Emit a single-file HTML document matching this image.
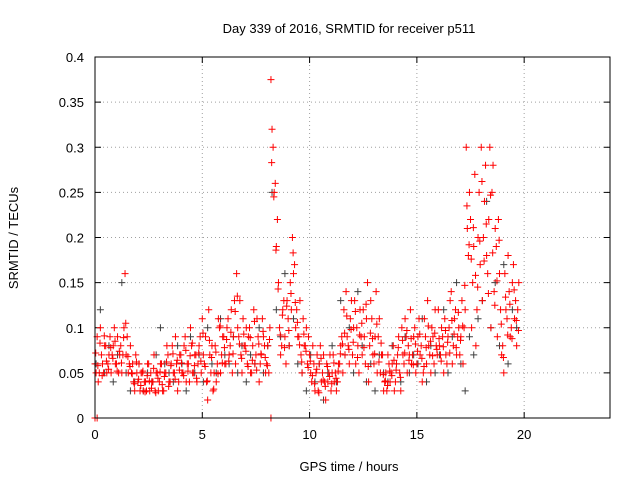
<!DOCTYPE html>
<html><head><meta charset="utf-8">
<style>
html,body{margin:0;padding:0;background:#fff;}
svg{display:block;font-family:"Liberation Sans",Arial,sans-serif;}
</style></head>
<body>
<svg id="chart" width="640" height="480" viewBox="0 0 640 480">
<rect x="0" y="0" width="640" height="480" fill="#fff"/>
<text x="349" y="33" font-size="13" text-anchor="middle" fill="#000">Day 339 of 2016, SRMTID for receiver p511</text>
<text x="349" y="471" font-size="13" text-anchor="middle" fill="#000">GPS time / hours</text>
<text x="18" y="238" font-size="13" text-anchor="middle" fill="#000" transform="rotate(-90 18 238)">SRMTID / TECUs</text>
<g id="grid"></g>
<g id="ticks"></g>
<g id="pts"></g>
<rect x="95" y="57" width="515" height="361" fill="none" stroke="#000" stroke-width="1"/>
</svg>
<script>
const xTicks=[0,5,10,15,20];
const yTicks=[0,0.05,0.1,0.15,0.2,0.25,0.3,0.35,0.4];
const yTickLabels=["0","0.05","0.1","0.15","0.2","0.25","0.3","0.35","0.4"];
const tStart=0, tStep=0.1, blackStep=0.2;
const redA=[.06,.09,.05,.07,.05,.08,.06,.09,.07,.10,.06,.05,.08,.07,.16,.09,.06,.05,.04,.07,.04,.03,.05,.04,.03,.06,.05,.04,.03,.05,.04,.06,.03,.05,.07,.04,.08,.05,.06,.04,.07,.05,.09,.06,.04,.08,.05,.07,.06,.09,.11,.06,.04,.12,.05,.03,.08,.06,.10,.07,.09,.06,.11,.08,.05,.13,.16,.09,.07,.11,.08,.06,.10,.05,.12,.07,.09,.06,.11,.08,.06,.05,.375,.30,.26,.22,.10,.08,.13,.06,.11,.15,.20,.17,.12,.09,.07,.11,.08,.06,.07,.04,.06,.05,.03,.08,.05,.04,.06,.05,.03,.07,.05,.04,.06,.09,.12,.14,.08,.11,.07,.13,.10,.05,.09,.12,.06,.15,.08,.11,.06,.14,.09,.05,.07,.04,.03,.06,.05,.08,.04,.07,.05,.10,.06,.09,.08,.12,.07,.10,.06,.11,.08,.05,.09,.13,.07,.10,.06,.08,.12,.07,.09,.11,.06,.10,.14,.08,.12,.09,.07,.13,.10,.30,.18,.22,.15,.27,.12,.25,.30,.20,.28,.16,.30,.25,.14,.19,.22,.12,.08,.16,.11,.14,.10,.17,.13,.12];
const redB=[.05,.04,.10,.06,.08,.05,.07,.05,.08,.06,.09,.07,.05,.10,.07,.05,.08,.06,.03,.05,.06,.05,.03,.04,.06,.03,.04,.07,.05,.03,.06,.03,.05,.08,.04,.06,.05,.09,.03,.07,.05,.08,.04,.06,.10,.05,.07,.04,.08,.05,.07,.09,.02,.07,.08,.05,.04,.11,.05,.09,.06,.10,.07,.12,.09,.06,.10,.13,.05,.08,.10,.09,.05,.08,.06,.11,.04,.07,.09,.05,.08,.10,.32,.25,.19,.15,.07,.12,.09,.13,.08,.12,.16,.10,.09,.13,.05,.08,.10,.09,.05,.08,.03,.07,.06,.04,.07,.02,.04,.07,.05,.04,.03,.06,.08,.05,.07,.09,.06,.13,.10,.06,.08,.12,.07,.09,.11,.04,.13,.07,.09,.05,.11,.07,.03,.05,.07,.04,.06,.03,.06,.09,.03,.07,.11,.05,.07,.06,.09,.05,.09,.07,.04,.11,.06,.08,.05,.09,.12,.07,.08,.10,.05,.07,.09,.13,.06,.11,.07,.10,.09,.06,.12,.21,.25,.10,.19,.08,.20,.17,.13,.24,.18,.22,.10,.28,.21,.09,.16,.07,.05,.12,.18,.09,.15,.11,.08,.15];
const redC=[.072,.058,.083,.047,.091,.063,.054,.078,.066,.085,.052,.074,.061,.089,.105,.068,.057,.049,.038,.062,.043,.036,.052,.029,.047,.041,.033,.055,.028,.044,.051,.037,.046,.062,.035,.058,.071,.043,.064,.053,.061,.047,.075,.052,.069,.083,.058,.044,.072,.063,.094,.057,.041,.086,.067,.032,.073,.049,.102,.061,.078,.087,.063,.095,.071,.118,.135,.082,.066,.093,.074,.057,.089,.064,.107,.053,.082,.071,.096,.067,.058,.087,.283,.245,.186,.143,.092,.114,.078,.124,.097,.138,.183,.128,.106,.081,.062,.093,.074,.056,.063,.047,.038,.054,.028,.066,.042,.035,.057,.046,.038,.061,.044,.052,.071,.082,.094,.113,.076,.098,.084,.118,.067,.092,.105,.078,.126,.057,.094,.088,.071,.104,.062,.083,.048,.041,.036,.052,.047,.064,.053,.078,.045,.086,.072,.097,.064,.088,.059,.082,.074,.093,.066,.057,.078,.102,.085,.069,.094,.076,.088,.063,.079,.097,.084,.072,.108,.093,.078,.117,.086,.102,.147,.235,.192,.176,.211,.158,.145,.196,.262,.174,.215,.138,.247,.183,.125,.152,.197,.104,.067,.134,.092,.126,.088,.142,.108,.097];
const black=[.06,.12,.05,.08,.04,.07,.15,.05,.03,.04,.06,.03,.05,.04,.07,.10,.06,.05,.04,.08,.06,.03,.09,.05,.07,.04,.10,.06,.05,.11,.07,.06,.09,.05,.08,.04,.07,.06,.10,.05,.08,.25,.12,.09,.16,.08,.11,.06,.05,.03,.07,.04,.06,.02,.05,.08,.04,.13,.07,.10,.05,.14,.08,.04,.06,.03,.07,.05,.04,.08,.06,.04,.09,.05,.07,.06,.11,.04,.08,.05,.07,.12,.05,.09,.15,.06,.03,.09,.07,.11,.13,.24,.10,.15,.08,.17,.06,.12,.10];
const zeroTimes=[0,0.1,8.2];
const zeroVals=[0,0,0];

const NS="http://www.w3.org/2000/svg";
const X0=95,X1=610,Y0=418,Y1=57;
function xs(t){return X0+(t/24)*(X1-X0);}
function ys(v){return Y0-(v/0.4)*(Y0-Y1);}
const grid=document.getElementById('grid'),ticks=document.getElementById('ticks'),pts=document.getElementById('pts');
function mk(tag,attrs,parent){const e=document.createElementNS(NS,tag);for(const k in attrs)e.setAttribute(k,attrs[k]);parent.appendChild(e);return e;}
xTicks.forEach(t=>{
  const x=xs(t);
  if(t>0){const g=mk('line',{x1:x,y1:Y0,x2:x,y2:Y1,stroke:'#a0a0a0','stroke-dasharray':'1,3'},grid);
  
  }
  mk('line',{x1:x,y1:Y0,x2:x,y2:Y0-6,stroke:'#000'},ticks);
  mk('line',{x1:x,y1:Y1,x2:x,y2:Y1+6,stroke:'#000'},ticks);
  const l=mk('text',{x:x,y:Y0+21,'font-size':13,'text-anchor':'middle'},ticks);
  l.textContent=String(t);
  
  
});
yTicks.forEach((v,i)=>{
  const y=ys(v);
  if(v>0&&v<0.4){const g=mk('line',{x1:X0,y1:y,x2:X1,y2:y,stroke:'#a0a0a0','stroke-dasharray':'1,3'},grid);
  
  }
  mk('line',{x1:X0,y1:y,x2:X0+6,y2:y,stroke:'#000'},ticks);
  mk('line',{x1:X1,y1:y,x2:X1-6,y2:y,stroke:'#000'},ticks);
  const l=mk('text',{x:X0-11,y:y+5,'font-size':13,'text-anchor':'end'},ticks);
  l.textContent=yTickLabels[i];
  
  
});
function plus(t,v,col,name){
  const x=xs(t),y=ys(v);
  const p=mk('path',{d:`M${x-3.5},${y}H${x+3.5}M${x},${y-3.5}V${y+3.5}`,stroke:col,'stroke-width':1,fill:'none'},pts);
  
  
}
black.forEach((v,i)=>plus(tStart+i*blackStep+0.05,v,'#404040','black-point'));
redA.forEach((v,i)=>plus(tStart+i*tStep,v,'#ff0000','red-point'));
redB.forEach((v,i)=>plus(tStart+i*tStep+0.05,v,'#ff0000','red-point'));
redC.forEach((v,i)=>plus(tStart+i*tStep+0.033,v,'#ff0000','red-point'));
zeroTimes.forEach((t,i)=>plus(t,zeroVals[i],'#ff0000','red-zero-point'));
</script>
</body></html>
